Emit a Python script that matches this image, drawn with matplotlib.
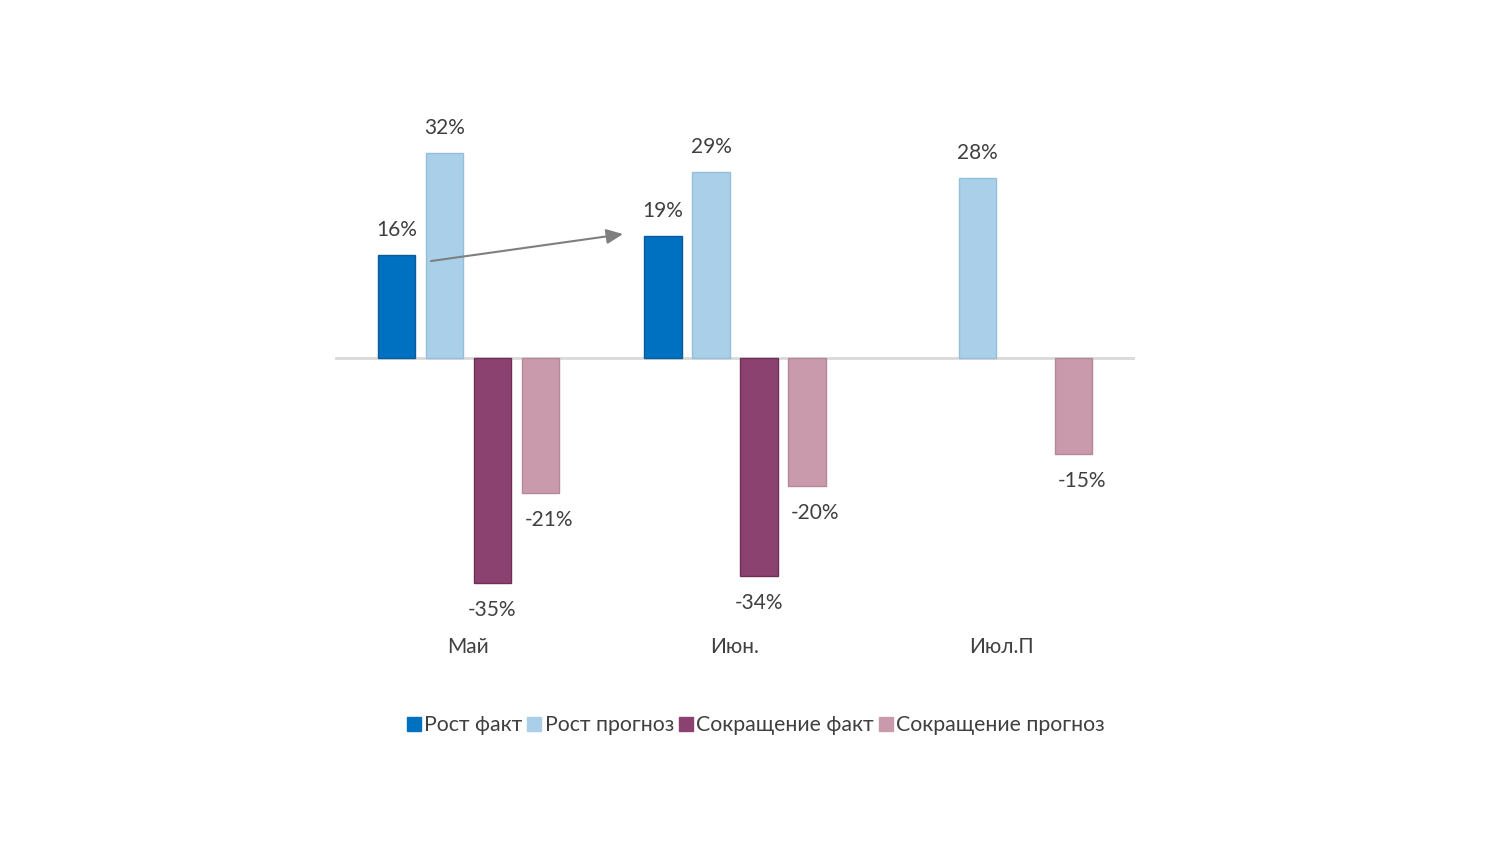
import numpy as np
import matplotlib
matplotlib.use("Agg")
import matplotlib.pyplot as plt
from matplotlib.lines import Line2D

plt.rcParams['font.family'] = ['Lato', 'DejaVu Sans']

categories = ["Май", "Июн.", "Июл.П"]
series_names = ["Рост факт", "Рост прогноз", "Сокращение факт", "Сокращение прогноз"]
rost_fakt = [16, 19, np.nan]
rost_prognoz = [32, 29, 28]
sokr_fakt = [-35, -34, np.nan]
sokr_prognoz = [-21, -20, -15]

series = [rost_fakt, rost_prognoz, sokr_fakt, sokr_prognoz]
colors = ["#0070C0", "#A9D0E8", "#8C4270", "#C89AAC"]
edges = ["#0A5A9C", "#94BEDA", "#6E2E56", "#B4879A"]
label_dx = [0, 0, 0, 6]
text_color = "#404040"

fig = plt.figure(figsize=(15.12, 8.64), dpi=100)
ax = fig.add_axes([335/1512, 1-630/864, 800/1512, 530/864])

x = np.arange(len(categories))
width = 0.14
pitch = 0.18
for i, (vals, c, ec) in enumerate(zip(series, colors, edges)):
    vals = np.array(vals, dtype=float)
    pos = x + (i - 1.5) * pitch
    ax.bar(pos, vals, width=width, color=c, edgecolor=ec, linewidth=1, zorder=2)
    for p, v in zip(pos, vals):
        if np.isnan(v):
            continue
        if v > 0:
            ax.annotate(f"{int(v)}%", (p, v), xytext=(0, 18), textcoords="offset points",
                        ha="center", va="center", fontsize=15, color=text_color)
        else:
            ax.annotate(f"{int(v)}%", (p, v), xytext=(label_dx[i], -19.5), textcoords="offset points",
                        ha="center", va="center", fontsize=15, color=text_color)

ax.axhline(0, color="#D9D9D9", linewidth=2, zorder=1)
ax.set_xlim(-0.5, 2.5)
ax.set_ylim(-42.4, 40.2)
ax.set_xticks(x)
ax.set_xticklabels(categories, fontsize=15, color=text_color)
ax.tick_params(axis="x", length=0, pad=5)
ax.set_yticks([])
for s in ax.spines.values():
    s.set_visible(False)

# growth arrow from May to June
ax.annotate("", xy=(0.58, 19.3), xytext=(-0.14, 15.1),
            arrowprops=dict(arrowstyle="-|>,head_length=1.0,head_width=0.45",
                            color="#7F7F7F", lw=1.5, shrinkA=0, shrinkB=0),
            zorder=3)

handles = [Line2D([0], [0], marker="s", linestyle="none", markersize=9.5,
                  markerfacecolor=c, markeredgecolor=c) for c in colors]
leg = fig.legend(handles, series_names, loc="center", bbox_to_anchor=(756/1512, 1-725/864),
                 ncol=4, frameon=False, fontsize=15.3, handlelength=0.6, handletextpad=0.2,
                 columnspacing=0.25, labelcolor=text_color)

fig.savefig("out.png", dpi=100, facecolor="white")
